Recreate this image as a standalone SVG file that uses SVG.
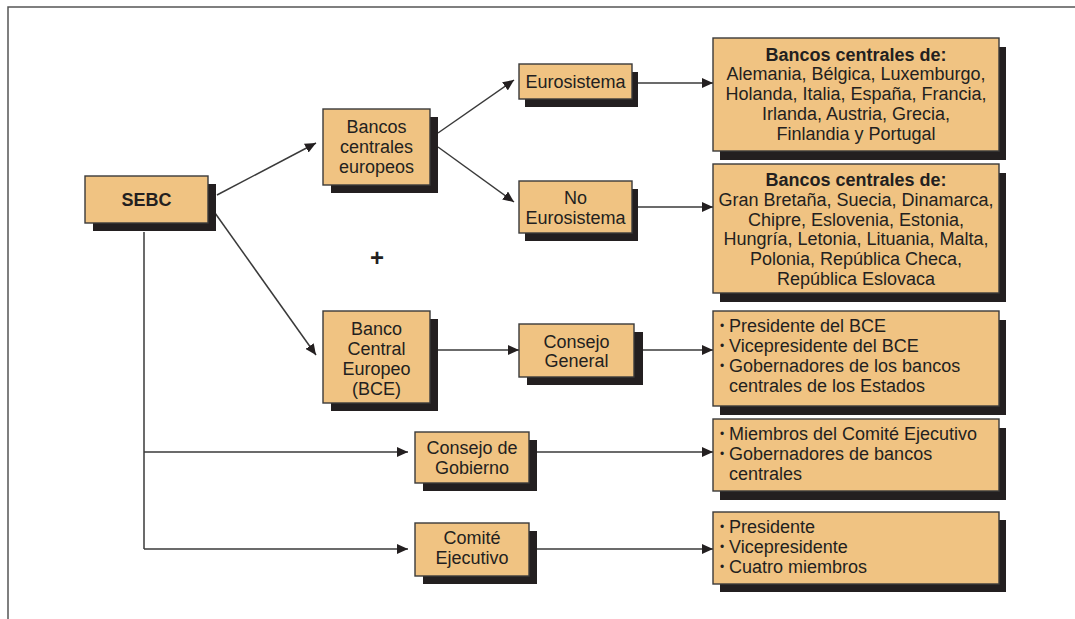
<svg xmlns="http://www.w3.org/2000/svg" width="1075" height="619" viewBox="0 0 1075 619">
  <style>
    .box{fill:#f0c382;stroke:#3a3a3a;stroke-width:1.4}
    .sh{fill:#231f20}
    .t{font-family:"Liberation Sans",Arial,sans-serif;font-size:18px;fill:#231f20}
    .c{text-anchor:middle}
    .b{font-weight:bold}
    .bul{font-family:"Liberation Sans",Arial,sans-serif;font-size:12px;fill:#231f20;text-anchor:middle}
    .ln{fill:none;stroke:#3a3a3a;stroke-width:1.5}
    .frame{fill:none;stroke:#555;stroke-width:1.5}
  </style>
  <defs>
    <marker id="ah" markerUnits="userSpaceOnUse" markerWidth="12" markerHeight="10" refX="11" refY="5" orient="auto">
      <path d="M0,0 L11,5 L0,10 Z" fill="#231f20"/>
    </marker>
  </defs>
  <rect width="1075" height="619" fill="#fff"/>
  <path class="frame" d="M8,619 V7 H1075"/>

  <g id="connectors">
    <line class="ln" x1="217" y1="195" x2="316" y2="143" marker-end="url(#ah)"/>
    <line class="ln" x1="215" y1="213" x2="316" y2="355" marker-end="url(#ah)"/>
    <path class="ln" d="M144,232 V549"/>
    <line class="ln" x1="144" y1="452" x2="408" y2="452" marker-end="url(#ah)"/>
    <line class="ln" x1="144" y1="549" x2="408" y2="549" marker-end="url(#ah)"/>
    <line class="ln" x1="438" y1="133" x2="514" y2="80" marker-end="url(#ah)"/>
    <line class="ln" x1="438" y1="147" x2="514" y2="202" marker-end="url(#ah)"/>
    <line class="ln" x1="588" y1="83" x2="713" y2="83" marker-end="url(#ah)"/>
    <line class="ln" x1="588" y1="207" x2="713" y2="207" marker-end="url(#ah)"/>
    <line class="ln" x1="438" y1="350" x2="519" y2="350" marker-end="url(#ah)"/>
    <line class="ln" x1="643" y1="350" x2="713" y2="350" marker-end="url(#ah)"/>
    <line class="ln" x1="537" y1="452" x2="713" y2="452" marker-end="url(#ah)"/>
    <line class="ln" x1="537" y1="549" x2="713" y2="549" marker-end="url(#ah)"/>
  </g>

  <g id="sebc">
    <rect class="sh" x="93" y="184" width="123" height="47"/>
    <rect class="box" x="85" y="176" width="123" height="47"/>
    <text class="t c b" x="146.5" y="206">SEBC</text>
  </g>

  <g id="bancos-europeos">
    <rect class="sh" x="331" y="117" width="107" height="76"/>
    <rect class="box" x="323" y="109" width="107" height="76"/>
    <text class="t c" x="376.5" y="133">Bancos</text>
    <text class="t c" x="376.5" y="153">centrales</text>
    <text class="t c" x="376.5" y="173">europeos</text>
  </g>

  <g id="eurosistema">
    <rect class="sh" x="525" y="72" width="113" height="35"/>
    <rect class="box" x="519" y="64" width="113" height="35"/>
    <text class="t c" x="575.5" y="88">Eurosistema</text>
  </g>

  <g id="no-eurosistema">
    <rect class="sh" x="525" y="189" width="113" height="52"/>
    <rect class="box" x="519" y="181" width="113" height="52"/>
    <text class="t c" x="575.5" y="204">No</text>
    <text class="t c" x="575.5" y="224">Eurosistema</text>
  </g>

  <g id="bancos-euro-lista">
    <rect class="sh" x="720" y="47" width="286" height="113"/>
    <rect class="box" x="713" y="38" width="286" height="113"/>
    <text class="t c b" x="856" y="61">Bancos centrales de:</text>
    <text class="t c" x="856" y="80">Alemania, Bélgica, Luxemburgo,</text>
    <text class="t c" x="856" y="100">Holanda, Italia, España, Francia,</text>
    <text class="t c" x="856" y="120">Irlanda, Austria, Grecia,</text>
    <text class="t c" x="856" y="140">Finlandia y Portugal</text>
  </g>

  <g id="bancos-noeuro-lista">
    <rect class="sh" x="720" y="173" width="286" height="129"/>
    <rect class="box" x="713" y="164" width="286" height="129"/>
    <text class="t c b" x="856" y="186">Bancos centrales de:</text>
    <text class="t c" x="856" y="206">Gran Bretaña, Suecia, Dinamarca,</text>
    <text class="t c" x="856" y="226">Chipre, Eslovenia, Estonia,</text>
    <text class="t c" x="856" y="245">Hungría, Letonia, Lituania, Malta,</text>
    <text class="t c" x="856" y="265">Polonia, República Checa,</text>
    <text class="t c" x="856" y="285">República Eslovaca</text>
  </g>

  <text class="t c b" x="377" y="266" style="font-size:24px">+</text>

  <g id="bce">
    <rect class="sh" x="331" y="319" width="107" height="92"/>
    <rect class="box" x="323" y="311" width="107" height="92"/>
    <text class="t c" x="376.5" y="335">Banco</text>
    <text class="t c" x="376.5" y="355">Central</text>
    <text class="t c" x="376.5" y="375">Europeo</text>
    <text class="t c" x="376.5" y="395">(BCE)</text>
  </g>

  <g id="consejo-general">
    <rect class="sh" x="527" y="332" width="116" height="53"/>
    <rect class="box" x="519" y="324" width="115" height="53"/>
    <text class="t c" x="576.5" y="348">Consejo</text>
    <text class="t c" x="576.5" y="367">General</text>
  </g>

  <g id="consejo-general-lista">
    <rect class="sh" x="720" y="320" width="286" height="95"/>
    <rect class="box" x="713" y="311" width="286" height="95"/>
    <text class="bul" x="722" y="330">•</text>
    <text class="t" x="729" y="332">Presidente del BCE</text>
    <text class="bul" x="722" y="350">•</text>
    <text class="t" x="729" y="352">Vicepresidente del BCE</text>
    <text class="bul" x="722" y="370">•</text>
    <text class="t" x="729" y="372">Gobernadores de los bancos</text>
    <text class="t" x="729" y="392">centrales de los Estados</text>
  </g>

  <g id="consejo-gobierno">
    <rect class="sh" x="423" y="440" width="114" height="51"/>
    <rect class="box" x="415" y="432" width="114" height="51"/>
    <text class="t c" x="472" y="454">Consejo de</text>
    <text class="t c" x="472" y="474">Gobierno</text>
  </g>

  <g id="consejo-gobierno-lista">
    <rect class="sh" x="720" y="428" width="286" height="72"/>
    <rect class="box" x="713" y="419" width="286" height="72"/>
    <text class="bul" x="722" y="438">•</text>
    <text class="t" x="729" y="440">Miembros del Comité Ejecutivo</text>
    <text class="bul" x="722" y="458">•</text>
    <text class="t" x="729" y="460">Gobernadores de bancos</text>
    <text class="t" x="729" y="480">centrales</text>
  </g>

  <g id="comite-ejecutivo">
    <rect class="sh" x="423" y="531" width="114" height="53"/>
    <rect class="box" x="415" y="523" width="114" height="53"/>
    <text class="t c" x="472" y="544">Comité</text>
    <text class="t c" x="472" y="564">Ejecutivo</text>
  </g>

  <g id="comite-ejecutivo-lista">
    <rect class="sh" x="720" y="520" width="286" height="72"/>
    <rect class="box" x="713" y="512" width="286" height="72"/>
    <text class="bul" x="722" y="531">•</text>
    <text class="t" x="729" y="533">Presidente</text>
    <text class="bul" x="722" y="551">•</text>
    <text class="t" x="729" y="553">Vicepresidente</text>
    <text class="bul" x="722" y="571">•</text>
    <text class="t" x="729" y="573">Cuatro miembros</text>
  </g>
</svg>
